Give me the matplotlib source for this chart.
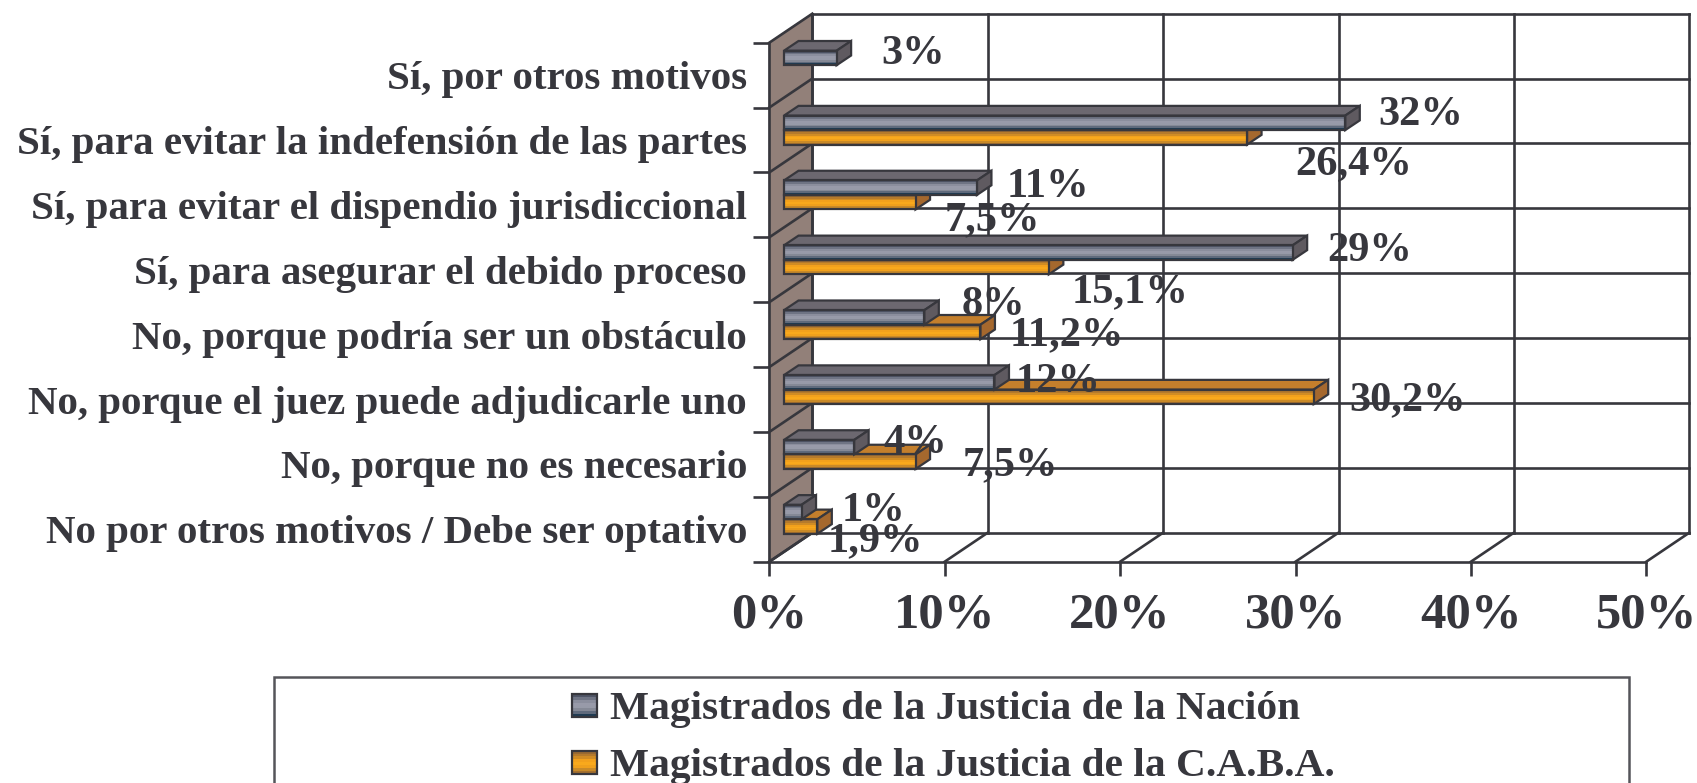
import matplotlib
matplotlib.use("Agg")
import matplotlib.pyplot as plt
from matplotlib.patches import Rectangle

# --- Data (top to bottom as in the chart) ---
categories = [
    "Sí, por otros motivos",
    "Sí, para evitar la indefensión de las partes",
    "Sí, para evitar el dispendio jurisdiccional",
    "Sí, para asegurar el debido proceso",
    "No, porque podría ser un obstáculo",
    "No, porque el juez puede adjudicarle uno",
    "No, porque no es necesario",
    "No por otros motivos / Debe ser optativo",
]
nacion = [3, 32, 11, 29, 8, 12, 4, 1]
caba = [None, 26.4, 7.5, 15.1, 11.2, 30.2, 7.5, 1.9]
nacion_labels = ["3%", "32%", "11%", "29%", "8%", "12%", "4%", "1%"]
caba_labels = [None, "26,4%", "7,5%", "15,1%", "11,2%", "30,2%", "7,5%", "1,9%"]
xticks = [0, 10, 20, 30, 40, 50]
legend_names = ["Magistrados de la Justicia de la Nación",
                "Magistrados de la Justicia de la C.A.B.A."]

# label offsets from the end of each bar, in pixels (x right, y down)
nacion_off = [(77, -8), (75, -12), (71, -5), (77, -6), (69, -17), (64, -5), (61, -9), (72, -6)]
caba_off = [None, (107, 22), (77, 13), (81, 21), (86, -1), (94, -1), (95, -1), (58, 10)]

grey_bands = ["#4f5566", "#6f7484", "#8b8e9d", "#989aa9", "#979aa8", "#858996", "#5f6a7c", "#1f3b52"]
orange_bands = ["#9a6a32", "#b57a2c", "#d08c24", "#f3a11c", "#f9a91c", "#f0a01c", "#c98a28", "#a5702e"]
grey_top, grey_side = "#6c6870", "#5f5a60"
orange_top, orange_side = "#c47f2c", "#a5682e"
ink = "#37373d"
font = "Liberation Serif"
LW = 1.9

W, H = 1697, 783
PX_X = 877 / 50       # pixels per percent
PX_Y = 519 / 8        # pixels per category
DX, DY = 43 / PX_X, 29 / PX_Y   # wall depth in data units
BAR_X, BAR_Y = 14.5 / PX_X, 9.7 / PX_Y   # bar depth
X0 = 14.7 / PX_X      # bars start here

fig = plt.figure(figsize=(W / 100, H / 100), dpi=100)
ax = fig.add_axes([769.3 / W, (H - 561.7) / H, 877 / W, 519 / H])
ax.set_xlim(0, 50)
ax.set_ylim(0, 8)
ax.patch.set_visible(False)
for s in ["top", "right"]:
    ax.spines[s].set_visible(False)
for s in ["left", "bottom"]:
    ax.spines[s].set_color(ink)
    ax.spines[s].set_linewidth(LW)

# ticks
ax.set_xticks(xticks)
ax.set_xticklabels([f"{x}%" for x in xticks], fontsize=36.5, fontweight="bold",
                   family=font, color=ink)
ax.tick_params(axis="x", length=10, width=LW, color=ink, pad=12.5)
ys = list(range(len(categories)))
ax.set_yticks([y + 0.5 for y in ys])
ax.set_yticklabels(categories[::-1], fontsize=29.5, fontweight="bold", family=font, color=ink)
ax.tick_params(axis="y", which="major", length=0, pad=16)
ax.set_yticks(list(range(len(categories) + 1)), minor=True)
ax.tick_params(axis="y", which="minor", length=11.5, width=LW, color=ink)

# wall, floor and grid
ax.fill([0, DX, DX, 0], [0, DY, 8 + DY, 8], color="#928079", clip_on=False, zorder=1)
ax.plot([DX, DX], [DY, 8 + DY], color=ink, lw=LW, clip_on=False, zorder=2)
for y in range(9):
    ax.plot([0, DX], [y, y + DY], color=ink, lw=LW, clip_on=False, zorder=2)
    ax.plot([DX, 50 + DX], [y + DY, y + DY], color=ink, lw=LW, clip_on=False, zorder=2)
for x in xticks:
    ax.plot([x, x + DX], [0, DY], color=ink, lw=LW, clip_on=False, zorder=2)
    ax.plot([x + DX, x + DX], [DY, 8 + DY], color=ink, lw=LW, clip_on=False, zorder=2)


def bar3d(value, y_top, y_bot, bands, top, side, z):
    x1 = X0 + value
    ax.fill([X0, X0 + BAR_X, x1 + BAR_X, x1], [y_top, y_top + BAR_Y, y_top + BAR_Y, y_top],
            facecolor=top, edgecolor=ink, lw=1.6, clip_on=False, zorder=z)
    ax.fill([x1, x1 + BAR_X, x1 + BAR_X, x1], [y_top, y_top + BAR_Y, y_bot + BAR_Y, y_bot],
            facecolor=side, edgecolor=ink, lw=1.6, clip_on=False, zorder=z)
    h = (y_top - y_bot) / len(bands)
    for k, c in enumerate(bands):
        ax.barh(y_top - h * (k + 0.5), value, height=h, left=X0, color=c, lw=0, zorder=z + 0.1)
    ax.barh((y_top + y_bot) / 2, value, height=y_top - y_bot, left=X0, facecolor="none",
            edgecolor=ink, lw=1.6, zorder=z + 0.2, clip_on=False)


n = len(categories)
for i in range(n):
    band_top = n - i
    a = band_top - 8 / PX_Y
    b = band_top - 22.5 / PX_Y
    c = band_top - 37 / PX_Y
    if caba[i] is not None:
        bar3d(caba[i], b, c, orange_bands, orange_top, orange_side, 3)
    bar3d(nacion[i], a, b, grey_bands, grey_top, grey_side, 4)

for i in range(n):
    band_top = n - i
    y = band_top - 15.3 / PX_Y
    ox, oy = nacion_off[i]
    ax.text(X0 + nacion[i] + ox / PX_X, y - oy / PX_Y, nacion_labels[i], ha="center",
            va="center_baseline", fontsize=30.5, fontweight="bold", family=font, color=ink,
            zorder=8)
    if caba[i] is not None:
        y = band_top - 29.8 / PX_Y
        ox, oy = caba_off[i]
        ax.text(X0 + caba[i] + ox / PX_X, y - oy / PX_Y, caba_labels[i], ha="center",
                va="center_baseline", fontsize=30.5, fontweight="bold", family=font, color=ink,
                zorder=8)

# legend, its box runs off the bottom of the picture
leg = fig.add_axes([0, 0, 1, 1])
leg.set_xlim(0, W)
leg.set_ylim(H, 0)
leg.axis("off")
leg.patch.set_visible(False)
leg.add_patch(Rectangle((274, 677), 1628.7 - 274, 200, facecolor="white", edgecolor="#55555a", lw=1.8))
for name, bands, y0 in zip(legend_names, [grey_bands, orange_bands], [694, 750.7]):
    h = 23 / len(bands)
    for k, c in enumerate(bands):
        leg.barh(y0 + h * (k + 0.5), 25, height=h, left=572, color=c, lw=0)
    leg.add_patch(Rectangle((572, y0), 25, 23, facecolor="none", edgecolor=ink, lw=1.6))
    leg.text(610, y0 + 11.5, name, ha="left", va="center_baseline", fontsize=29.8,
             fontweight="bold", family=font, color=ink)

fig.savefig("out.png", dpi=100)
